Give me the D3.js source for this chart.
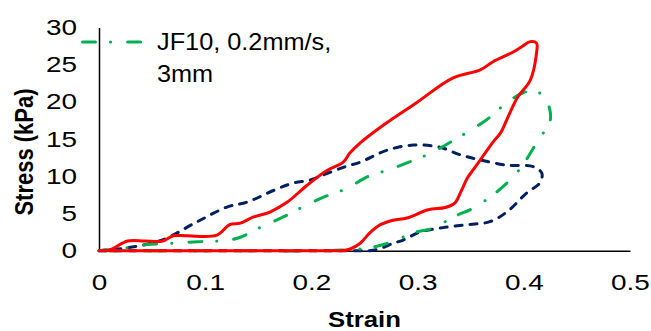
<!DOCTYPE html>
<html lang="en">
<head>
<meta charset="utf-8">
<script src="https://d3js.org/d3.v7.min.js"></script>
<style>
  body { margin: 0; background: #fff; }
  svg { display: block; font-family: "Liberation Sans", Arial, sans-serif; }
</style>
</head>
<body>
<script>
// values: strain (x) and stress in kPa (y), one loop per series
const redStrain  = [0, 0.010, 0.027, 0.043, 0.060, 0.070, 0.083, 0.111, 0.123, 0.133, 0.145, 0.161, 0.177, 0.196, 0.215, 0.230, 0.236, 0.246, 0.265, 0.299, 0.333, 0.359, 0.371, 0.390, 0.398, 0.406, 0.412, 0.412, 0.406, 0.394, 0.384, 0.378, 0.371, 0.362, 0.353, 0.347, 0.341, 0.335, 0.326, 0.310, 0.290, 0.277, 0.265, 0.255, 0.246, 0.236, 0.228, 0.218, 0.120, 0.020, 0.010];
const redStress  = [0, 0.1, 1.3, 1.3, 1.3, 2.0, 2.0, 2.1, 3.5, 3.7, 4.5, 5.2, 6.5, 8.8, 10.8, 11.9, 13.1, 14.5, 16.6, 19.9, 23.2, 24.3, 25.4, 26.7, 27.4, 28.1, 27.9, 26.6, 22.9, 20.6, 17.6, 15.8, 14.6, 12.8, 11.0, 9.8, 8.0, 6.4, 5.8, 5.5, 4.4, 4.1, 3.5, 2.4, 1.0, 0.2, 0, 0, 0, 0, 0];

const navyStrain = [0, 0.008, 0.027, 0.059, 0.090, 0.121, 0.139, 0.166, 0.183, 0.199, 0.215, 0.232, 0.246, 0.271, 0.296, 0.321, 0.340, 0.359, 0.384, 0.409, 0.417, 0.415, 0.403, 0.384, 0.368, 0.347, 0.324, 0.302, 0.286, 0.277, 0.265, 0.255, 0.245, 0.130, 0.010, 0];
const navyStress = [0, 0.1, 0.4, 1.4, 3.7, 5.9, 6.5, 8.2, 9.1, 9.5, 10.4, 11.3, 11.9, 13.5, 14.2, 13.9, 12.9, 12.2, 11.5, 11.3, 10.4, 9.1, 7.8, 5.2, 3.9, 3.5, 3.1, 2.5, 1.4, 1.0, 0.3, 0, 0, 0, 0, 0];

const greenStrain = [0, 0.027, 0.043, 0.070, 0.093, 0.112, 0.131, 0.153, 0.173, 0.192, 0.215, 0.234, 0.252, 0.271, 0.290, 0.312, 0.337, 0.365, 0.384, 0.399, 0.411, 0.422, 0.425, 0.420, 0.412, 0.399, 0.387, 0.371, 0.352, 0.333, 0.316, 0.296, 0.276, 0.255, 0.230, 0.215, 0.110, 0.010, 0];
const greenStress = [0, 0.4, 0.8, 1.0, 1.2, 1.3, 1.7, 3.2, 4.5, 5.9, 7.4, 8.4, 9.9, 10.8, 11.8, 13.1, 15.1, 17.6, 19.9, 21.2, 21.5, 20.0, 17.6, 16.2, 14.5, 11.5, 9.5, 7.5, 5.7, 4.5, 3.1, 2.4, 1.2, 0.4, 0.1, 0, 0, 0, 0];

const xTicks = [0, 0.1, 0.2, 0.3, 0.4, 0.5];
const yTicks = [0, 5, 10, 15, 20, 25, 30];
const legendLines = ["JF10, 0.2mm/s,", "3mm"];

const W = 651, H = 331;
const plot = {left: 99, right: 630, top: 27.5, bottom: 250.7};
const stretch = 1.27; // the picture's text is wider than plain Arial

const svg = d3.select("body").append("svg")
  .attr("width", W)
  .attr("height", H);

const x = d3.scaleLinear().domain([0, 0.5]).range([plot.left, plot.right]);
const y = d3.scaleLinear().domain([0, 30]).range([plot.bottom, plot.top]);

// axes, no tick marks
const xAxis = svg.append("g")
  .attr("transform", "translate(0," + plot.bottom + ")")
  .call(d3.axisBottom(x).tickValues(xTicks).tickSize(0).tickPadding(24)
    .tickFormat(d => d === 0 ? "0" : d3.format(".1f")(d)));
xAxis.select(".domain").attr("stroke", "#000").attr("stroke-width", 1.5);
xAxis.selectAll("text")
  .attr("font-size", 22).attr("fill", "#000")
  .attr("font-family", "Liberation Sans, Arial, sans-serif")
  .attr("transform", "scale(" + stretch + ",1)");

const yAxis = svg.append("g")
  .attr("transform", "translate(" + plot.left + ",0)")
  .call(d3.axisLeft(y).tickValues(yTicks).tickSize(0).tickPadding(22 / stretch));
yAxis.select(".domain").attr("stroke", "#000").attr("stroke-width", 1.5);
yAxis.selectAll("text")
  .attr("font-size", 22).attr("fill", "#000")
  .attr("font-family", "Liberation Sans, Arial, sans-serif")
  .attr("transform", "scale(" + stretch + ",1)");

// axis titles
svg.append("text")
  .attr("transform", "translate(" + ((plot.left + plot.right) / 2) + ",327) scale(1.17,1)")
  .attr("text-anchor", "middle")
  .attr("font-size", 22).attr("font-weight", "bold")
  .text("Strain");

svg.append("text")
  .attr("transform", "translate(33,152) scale(1.17,1) rotate(-90)")
  .attr("text-anchor", "middle")
  .attr("font-size", 22).attr("font-weight", "bold")
  .text("Stress (kPa)");

// curves
const line = d3.line()
  .x(d => x(d[0]))
  .y(d => y(d[1]))
  .curve(d3.curveCatmullRom.alpha(0.5));

const series = [
  {xs: navyStrain, ys: navyStress, color: "#002060", dash: "7,8"},
  {xs: greenStrain, ys: greenStress, color: "#00B050", dash: "13,15,0.1,17"},
  {xs: redStrain, ys: redStress, color: "#FF0000", dash: null}
];

series.forEach(function(s) {
  svg.append("path")
    .datum(d3.zip(s.xs, s.ys))
    .attr("d", line)
    .attr("fill", "none")
    .attr("stroke", s.color)
    .attr("stroke-width", 3)
    .attr("stroke-linecap", "round")
    .attr("stroke-linejoin", "round")
    .attr("stroke-dasharray", s.dash);
});

// legend (green series only)
svg.append("line")
  .attr("x1", 82.5).attr("x2", 142)
  .attr("y1", 42).attr("y2", 42)
  .attr("stroke", "#00B050")
  .attr("stroke-width", 3)
  .attr("stroke-linecap", "round")
  .attr("stroke-dasharray", "13,15,0.1,17");

legendLines.forEach(function(t, i) {
  svg.append("text")
    .attr("transform", "translate(157," + (50 + i * 32) + ") scale(1.1,1)")
    .attr("font-size", 23)
    .attr("fill", "#000")
    .text(t);
});
</script>
</body>
</html>
